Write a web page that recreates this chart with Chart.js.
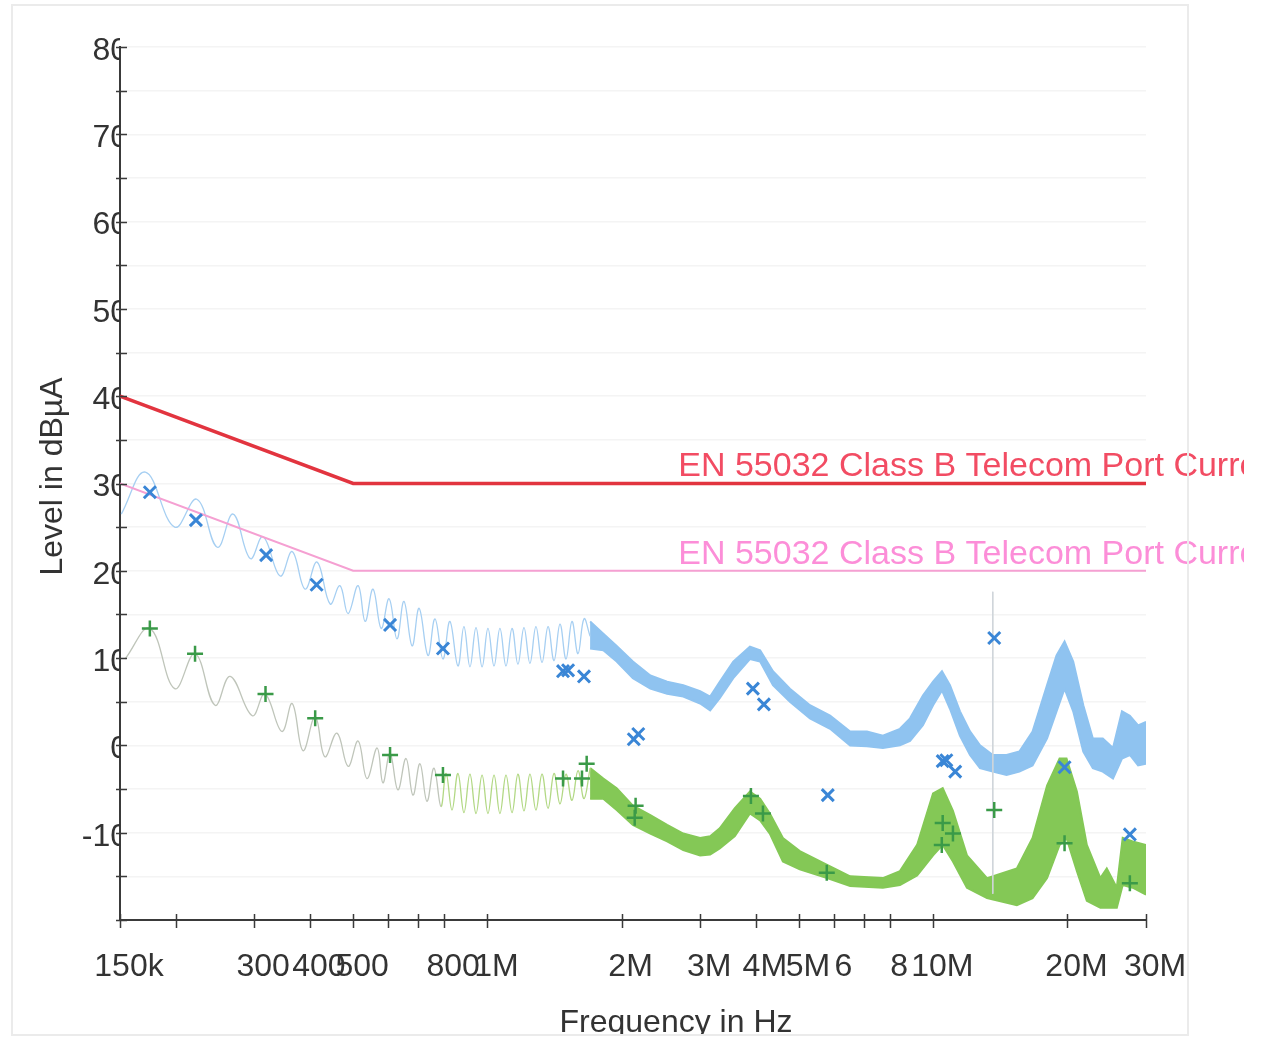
<!DOCTYPE html>
<html>
<head>
<meta charset="utf-8">
<title>Conducted emission - telecom port current</title>
<script src="https://cdn.jsdelivr.net/npm/chart.js@4.4.1/dist/chart.umd.min.js"></script>
<style>
  body { margin: 0; background: #fff; }
  canvas { display: block; }
</style>
</head>
<body>
<canvas id="emiChart" width="1263" height="1039"></canvas>
<script>
// frequencies in MHz, levels in dBµA

// limit lines
const limitFreq = [0.15, 0.5, 30];
const limitQP = [40, 30, 30];
const limitAV = [30, 20, 20];
const limitLabelQP = 'EN 55032 Class B Telecom Port Current QP';
const limitLabelAV = 'EN 55032 Class B Telecom Port Current AV';

// blue trace (peak), ripple part
const blueRippleF = [0.151, 0.171, 0.199, 0.223, 0.248, 0.269, 0.294, 0.314, 0.343, 0.365,
  0.390, 0.415, 0.444, 0.467, 0.487, 0.513, 0.532, 0.554, 0.578, 0.602,
  0.627, 0.650, 0.678, 0.703, 0.736, 0.763, 0.795, 0.824, 0.859, 0.886,
  0.914, 0.943, 0.973, 1.003, 1.035, 1.067, 1.101, 1.136, 1.171, 1.208,
  1.246, 1.285, 1.326, 1.368, 1.411, 1.455, 1.501, 1.548, 1.597, 1.647, 1.70];
const blueRippleV = [26.5, 31.3, 25.0, 28.2, 22.7, 26.5, 21.4, 23.9, 19.4, 22.2,
  17.9, 21.0, 16.2, 18.3, 15.1, 18.3, 14.2, 17.9, 13.4, 16.8,
  12.2, 16.5, 11.4, 15.7, 10.3, 14.5, 9.9, 14.2, 9.1, 13.6,
  9.0, 13.5, 9.0, 13.4, 9.1, 13.4, 9.1, 13.4, 9.3, 13.5,
  9.4, 13.6, 9.5, 13.6, 9.7, 13.9, 9.9, 14.2, 10.5, 14.5, 12.5];

// blue trace, dense part as upper / lower envelope
const blueBandF = [1.70, 1.82, 1.95, 2.12, 2.32, 2.53, 2.75, 3.00, 3.16, 3.32,
  3.56, 3.88, 4.09, 4.37, 4.77, 5.29, 5.87, 6.51, 7.10, 7.71,
  8.42, 8.87, 9.48, 9.99, 10.46, 10.9, 11.48, 12.09, 12.73, 13.6,
  14.6, 15.6, 16.7, 18.0, 18.9, 19.7, 20.6, 21.7, 22.8, 24.0,
  25.3, 26.5, 27.6, 28.8, 30.0];
const blueBandHi = [14.2, 12.8, 11.4, 9.6, 8.0, 7.3, 6.9, 6.2, 5.6, 7.3,
  9.6, 11.3, 10.9, 8.5, 6.5, 4.6, 3.4, 1.6, 1.6, 1.1,
  1.9, 3.1, 5.7, 7.3, 8.5, 6.9, 3.9, 1.6, 0, -1.1,
  -1.1, -0.7, 1.6, 6.9, 10.3, 11.9, 9.6, 4.6, 0.8, 0.8,
  -0.3, 3.9, 3.4, 2.3, 2.7];
const blueBandLo = [11.1, 10.9, 9.6, 7.7, 6.5, 5.9, 5.6, 4.8, 4.0, 5.4,
  7.7, 9.9, 9.6, 6.9, 5.0, 3.1, 1.9, 0, -0.1, -0.3,
  0, 0.5, 2.3, 4.6, 6.3, 4.2, 1.1, -1.1, -2.6, -3.0,
  -3.4, -3.0, -2.3, 0.8, 3.9, 6.5, 3.9, -0.7, -2.6, -3.0,
  -3.8, -1.5, -1.1, -2.3, -2.1];

// green trace (average), ripple part
const greenRippleF = [0.154, 0.175, 0.199, 0.221, 0.245, 0.265, 0.297, 0.317, 0.346, 0.365,
  0.386, 0.411, 0.432, 0.460, 0.487, 0.513, 0.537, 0.566, 0.583, 0.605,
  0.630, 0.657, 0.681, 0.706, 0.732, 0.759, 0.787, 0.808, 0.833, 0.859,
  0.886, 0.914, 0.943, 0.973, 1.003, 1.035, 1.067, 1.101, 1.136, 1.171,
  1.208, 1.246, 1.285, 1.326, 1.368, 1.411, 1.455, 1.501, 1.548, 1.597,
  1.647, 1.70];
const greenRippleV = [9.9, 13.4, 6.5, 10.5, 4.6, 7.9, 3.4, 5.9, 1.6, 4.8,
  -0.6, 3.3, -1.3, 1.4, -2.4, 0.5, -3.8, -0.3, -4.3, -0.9,
  -5.1, -1.5, -5.7, -2.1, -6.4, -2.6, -7.0, -3.2, -7.4, -3.2,
  -7.7, -3.3, -7.8, -3.4, -7.8, -3.4, -7.8, -3.4, -7.7, -3.3,
  -7.5, -3.3, -7.4, -3.3, -7.2, -3.2, -6.7, -3.3, -6.3, -2.9,
  -6.1, -2.6];

// green trace, dense part
const greenBandF = [1.70, 1.82, 1.95, 2.12, 2.32, 2.53, 2.75, 3.00, 3.16, 3.32,
  3.59, 3.88, 4.09, 4.30, 4.60, 5.02, 5.78, 6.51, 7.71, 8.42,
  9.20, 9.99, 10.5, 11.07, 11.9, 13.2, 15.4, 16.7, 18.0, 19.2,
  19.9, 21.0, 22.1, 23.7, 24.5, 25.8, 26.6, 28.0, 30.0];
const greenBandHi = [-2.6, -3.8, -4.9, -6.9, -8.0, -9.1, -10.1, -10.6, -10.4, -9.5,
  -7.2, -5.3, -6.1, -7.8, -10.6, -12.1, -13.7, -15.0, -15.2, -14.4,
  -11.4, -5.5, -4.9, -7.5, -12.6, -15.2, -14.1, -10.6, -4.6, -1.5,
  -1.5, -5.3, -11.4, -15.2, -14.1, -16.3, -10.6, -11.0, -11.4];
const greenBandLo = [-6.1, -6.1, -7.4, -9.1, -10.1, -11.0, -12.0, -12.6, -12.5, -11.8,
  -10.4, -7.8, -8.6, -10.1, -13.3, -14.2, -15.2, -16.1, -16.3, -16.0,
  -14.9, -12.6, -11.4, -13.3, -16.3, -17.5, -18.3, -17.5, -15.2, -11.4,
  -10.6, -14.4, -17.8, -18.6, -18.6, -18.6, -16.0, -16.3, -17.1];

// single spike near 13.6 MHz
const spikeF = [13.6, 13.6];
const spikeV = [17.6, -17.0];

// final measurement markers
const qpMarkF = [0.175, 0.222, 0.319, 0.414, 0.605, 0.795, 1.478, 1.517, 1.647, 2.13,
  2.18, 3.94, 4.17, 5.80, 10.5, 10.7, 11.2, 13.7, 19.7, 27.6];
const qpMarkV = [29.0, 25.8, 21.8, 18.4, 13.8, 11.1, 8.5, 8.6, 7.9, 0.7,
  1.3, 6.5, 4.7, -5.7, -1.8, -1.7, -3.0, 12.3, -2.5, -10.2];
const avMarkF = [0.175, 0.221, 0.318, 0.411, 0.605, 0.795, 1.478, 1.63, 1.67, 2.15,
  2.14, 3.90, 4.15, 5.77, 10.5, 11.07, 10.45, 13.7, 19.7, 27.6];
const avMarkV = [13.4, 10.5, 5.9, 3.1, -1.1, -3.4, -3.8, -3.8, -2.1, -6.9,
  -8.3, -5.8, -7.8, -14.6, -8.9, -10.1, -11.4, -7.4, -11.2, -15.8];

// axis ticks
const xTickValues = [0.15, 0.2, 0.3, 0.4, 0.5, 0.6, 0.7, 0.8, 1, 2, 3, 4, 5, 6, 7, 8, 10, 20, 30];
const xTickLabels = ['150k', '', '300', '400', '500', '', '', '800', '1M', '2M', '3M', '4M', '5M', '6', '', '8', '10M', '20M', '30M'];
const yMin = -20;
const yMax = 80;

const FONT = '"Liberation Sans", Arial, Helvetica, sans-serif';
Chart.defaults.font.family = FONT;

function pts(fs, vs) {
  return fs.map((f, i) => ({ x: f, y: vs[i] }));
}

const decorPlugin = {
  id: 'decor',
  beforeDraw(chart) {
    const ctx = chart.ctx;
    ctx.save();
    ctx.fillStyle = '#ffffff';
    ctx.fillRect(0, 0, chart.width, chart.height);
    ctx.restore();
  },
  afterDraw(chart) {
    const { ctx, chartArea, scales } = chart;
    const x = scales.x, y = scales.y;
    ctx.save();

    // tick marks crossing the axes
    ctx.strokeStyle = '#3a3a3a';
    ctx.lineWidth = 1.5;
    ctx.beginPath();
    y.ticks.forEach(t => {
      const py = Math.round(y.getPixelForValue(t.value)) + 0.5;
      ctx.moveTo(chartArea.left - 4, py);
      ctx.lineTo(chartArea.left + 7, py);
    });
    x.ticks.forEach(t => {
      const px = Math.round(x.getPixelForValue(t.value)) + 0.5;
      ctx.moveTo(px, chartArea.bottom - 6);
      ctx.lineTo(px, chartArea.bottom + 8);
    });
    ctx.stroke();

    // limit line labels, cut off at the picture edge
    ctx.save();
    ctx.beginPath();
    ctx.rect(0, 0, chartArea.right + 98, chart.height);
    ctx.clip();
    ctx.font = '34px ' + FONT;
    ctx.textAlign = 'left';
    ctx.textBaseline = 'alphabetic';
    const labelF = 2.68;
    ctx.fillStyle = '#f24c63';
    ctx.fillText(limitLabelQP, x.getPixelForValue(labelF), y.getPixelForValue(limitQP[2]) - 8);
    ctx.fillStyle = '#fc8ed8';
    ctx.fillText(limitLabelAV, x.getPixelForValue(labelF), y.getPixelForValue(limitAV[2]) - 7);
    ctx.restore();

    // axis titles
    ctx.fillStyle = '#333333';
    ctx.font = '32px ' + FONT;
    ctx.save();
    ctx.beginPath();
    ctx.rect(0, 0, chart.width, chartArea.bottom + 114);
    ctx.clip();
    ctx.textAlign = 'center';
    ctx.fillText('Frequency in Hz', (chartArea.left + chartArea.right) / 2 + 43, chartArea.bottom + 112);
    ctx.restore();

    ctx.save();
    ctx.translate(chartArea.left - 58, (chartArea.top + chartArea.bottom) / 2 - 7);
    ctx.rotate(-Math.PI / 2);
    ctx.textAlign = 'center';
    ctx.fillText('Level in dBµA', 0, 0);
    ctx.restore();

    // faint scan frame
    ctx.strokeStyle = '#ebebeb';
    ctx.lineWidth = 2;
    ctx.strokeRect(12, 5, 1176, 1030);
    ctx.restore();
  }
};

const ctx = document.getElementById('emiChart').getContext('2d');
new Chart(ctx, {
  type: 'scatter',
  data: {
    datasets: [
      {
        label: 'QP final',
        data: pts(qpMarkF, qpMarkV),
        pointStyle: 'crossRot',
        pointRadius: 8.5,
        pointBorderWidth: 3,
        borderColor: '#3a86d6',
        backgroundColor: '#3a86d6',
        order: 0
      },
      {
        label: 'AV final',
        data: pts(avMarkF, avMarkV),
        pointStyle: 'cross',
        pointRadius: 8,
        pointBorderWidth: 2.5,
        borderColor: '#3a9a48',
        backgroundColor: '#3a9a48',
        order: 0
      },
      {
        label: limitLabelQP,
        data: pts(limitFreq, limitQP),
        showLine: true,
        borderColor: '#e2343f',
        borderWidth: 3.5,
        pointRadius: 0,
        order: 1
      },
      {
        label: limitLabelAV,
        data: pts(limitFreq, limitAV),
        showLine: true,
        borderColor: '#f5a0d2',
        borderWidth: 2,
        pointRadius: 0,
        order: 1
      },
      {
        label: 'spike',
        data: pts(spikeF, spikeV),
        showLine: true,
        borderColor: '#cfd5da',
        borderWidth: 1,
        pointRadius: 0,
        order: 2
      },
      {
        label: 'Peak ripple',
        data: pts(blueRippleF, blueRippleV),
        showLine: true,
        borderColor: '#a6cff2',
        borderWidth: 1.3,
        pointRadius: 0,
        tension: 0.4,
        order: 3
      },
      {
        label: 'Peak band hi',
        data: pts(blueBandF, blueBandHi),
        showLine: true,
        borderColor: '#8fc3f0',
        borderWidth: 2,
        pointRadius: 0,
        fill: false,
        order: 3
      },
      {
        label: 'Peak band lo',
        data: pts(blueBandF, blueBandLo),
        showLine: true,
        borderColor: '#8fc3f0',
        backgroundColor: '#8fc3f0',
        borderWidth: 2,
        pointRadius: 0,
        fill: '-1',
        order: 3
      },
      {
        label: 'Average ripple',
        data: pts(greenRippleF, greenRippleV),
        showLine: true,
        borderColor: '#bfc5ba',
        borderWidth: 1.3,
        pointRadius: 0,
        tension: 0.4,
        segment: {
          borderColor: c => (c.p0.parsed.x >= 0.78 ? '#b2d884' : '#bfc5ba')
        },
        order: 3
      },
      {
        label: 'Average band hi',
        data: pts(greenBandF, greenBandHi),
        showLine: true,
        borderColor: '#84c856',
        borderWidth: 2,
        pointRadius: 0,
        fill: false,
        order: 3
      },
      {
        label: 'Average band lo',
        data: pts(greenBandF, greenBandLo),
        showLine: true,
        borderColor: '#84c856',
        backgroundColor: '#84c856',
        borderWidth: 2,
        pointRadius: 0,
        fill: '-1',
        order: 3
      }
    ]
  },
  options: {
    responsive: false,
    animation: false,
    layout: { padding: { left: 0, top: 47, right: 117, bottom: 0 } },
    plugins: {
      legend: { display: false },
      tooltip: { enabled: false },
      title: { display: false }
    },
    scales: {
      x: {
        type: 'logarithmic',
        min: 0.15,
        max: 30,
        afterBuildTicks: scale => {
          scale.ticks = xTickValues.map(v => ({ value: v }));
        },
        afterFit: scale => { scale.height = 119; },
        grid: { display: false, drawTicks: false },
        border: { display: true, color: '#3a3a3a', width: 2 },
        ticks: {
          autoSkip: false,
          maxRotation: 0,
          minRotation: 0,
          padding: 28,
          labelOffset: 9,
          color: '#333333',
          font: { size: 32 },
          callback: (value, index) => xTickLabels[index]
        }
      },
      y: {
        min: yMin,
        max: yMax,
        afterFit: scale => { scale.width = 120; },
        grid: { color: '#f4f4f4', lineWidth: 1.5, drawTicks: false },
        border: { display: true, color: '#3a3a3a', width: 2 },
        ticks: {
          stepSize: 5,
          padding: -8,
          labelOffset: 4,
          color: '#333333',
          font: { size: 32 },
          callback: v => (v % 10 === 0 && v > yMin ? String(v) : '')
        }
      }
    }
  },
  plugins: [decorPlugin]
});
</script>
</body>
</html>
